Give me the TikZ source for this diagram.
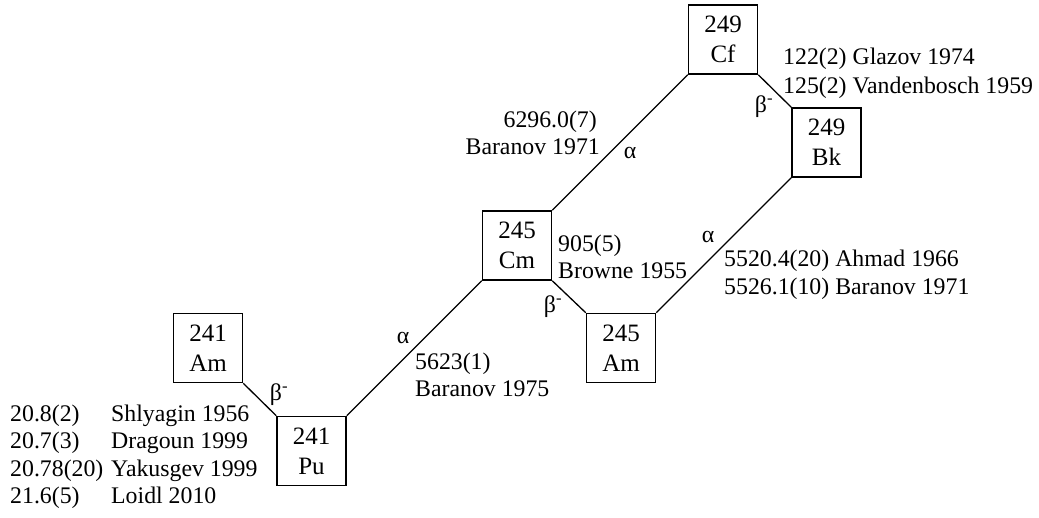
\documentclass[tikz,border=0pt]{standalone}
\usepackage{fontspec}
\setmainfont{Liberation Serif}
\begin{document}
\begin{tikzpicture}[x=1pt,y=-1pt,
  nuc/.style={draw,line width=1.5pt,minimum size=69pt,inner sep=0pt,align=center,
    font=\fontsize{25}{30}\selectfont},
  link/.style={line width=1.3pt},
  lab/.style={inner sep=0pt,font=\fontsize{23.8}{28}\selectfont},
  dec/.style={inner sep=0pt,font=\fontsize{23.8}{28}\selectfont}]
\useasboundingbox (0,0) rectangle (1039,518);
% nuclide boxes
\node[nuc] (am241) at (208,348) {241\\Am};
\node[nuc] (pu241) at (311.5,451) {241\\Pu};
\node[nuc] (cm245) at (517,245.5) {245\\Cm};
\node[nuc] (am245) at (621,348) {245\\Am};
\node[nuc] (cf249) at (723,39.5) {249\\Cf};
\node[nuc] (bk249) at (826.5,142.5) {249\\Bk};
% connectors
\draw[link] (am241.south east) -- (pu241.north west);
\draw[link] (pu241.north east) -- (cm245.south west);
\draw[link] (cm245.south east) -- (am245.north west);
\draw[link] (cm245.north east) -- (cf249.south west);
\draw[link] (cf249.south east) -- (bk249.north west);
\draw[link] (am245.north east) -- (bk249.south west);
% decay labels
\node[dec] (b1) at (279,395) {β\textsuperscript{-}};
\node[dec] (a1) at (403,338) {α};
\node[dec] (b2) at (553,307) {β\textsuperscript{-}};
\node[dec] (a2) at (630,153) {α};
\node[dec] (b3) at (764,107) {β\textsuperscript{-}};
\node[dec] (a3) at (708,237) {α};
% data labels
\node[lab,anchor=base east] (t1) at (597,128) {6296.0(7)};
\node[lab,anchor=base east] (t2) at (600,155) {Baranov 1971};
\node[lab,anchor=base west] (t3) at (783,65) {122(2) Glazov 1974};
\node[lab,anchor=base west] (t4) at (783,94) {125(2) Vandenbosch 1959};
\node[lab,anchor=base west] (t5) at (558,252) {905(5)};
\node[lab,anchor=base west] (t6) at (558,279) {Browne 1955};
\node[lab,anchor=base west] (t7) at (724,267) {5520.4(20) Ahmad 1966};
\node[lab,anchor=base west] (t8) at (724,295) {5526.1(10) Baranov 1971};
\node[lab,anchor=base west] (t9) at (415,370) {5623(1)};
\node[lab,anchor=base west] (t10) at (415,397) {Baranov 1975};
\node[lab,anchor=base west] (l1a) at (10,422) {20.8(2)};
\node[lab,anchor=base west] (l1b) at (111,422) {Shlyagin 1956};
\node[lab,anchor=base west] (l2a) at (10,449) {20.7(3)};
\node[lab,anchor=base west] (l2b) at (111,449) {Dragoun 1999};
\node[lab,anchor=base west] (l3a) at (10,476) {20.78(20)};
\node[lab,anchor=base west] (l3b) at (111,476) {Yakusgev 1999};
\node[lab,anchor=base west] (l4a) at (10,503) {21.6(5)};
\node[lab,anchor=base west] (l4b) at (111,503) {Loidl 2010};
\end{tikzpicture}
\end{document}
